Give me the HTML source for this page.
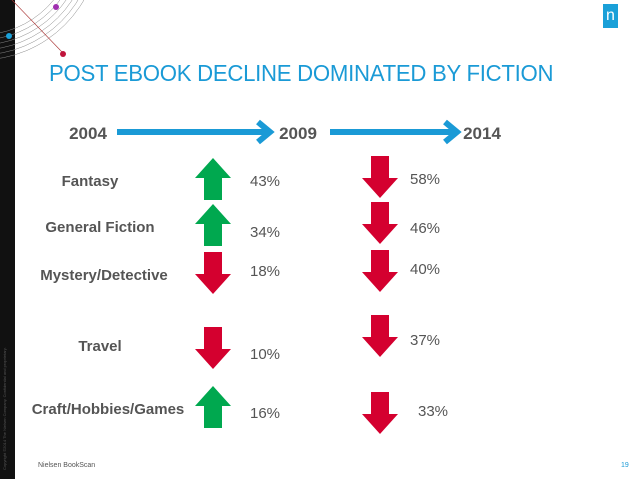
<!DOCTYPE html>
<html><head><meta charset="utf-8"><style>
body{margin:0;width:638px;height:479px;background:#fff;position:relative;overflow:hidden;font-family:"Liberation Sans",sans-serif}
.t{position:absolute;white-space:nowrap}
</style></head><body>
<div style="position:absolute;left:0;top:0;width:15px;height:479px;background:#111"></div>
<div class="t" style="left:2px;top:470px;transform:rotate(-90deg);transform-origin:0 0;font-size:4px;color:#555">Copyright ©2014 The Nielsen Company. Confidential and proprietary.</div>
<svg style="position:absolute;left:0;top:0" width="130" height="60">
<g fill="none" stroke="#888" stroke-width="0.5">
<circle cx="-20" cy="-60" r="95"/><circle cx="-20" cy="-60" r="100"/><circle cx="-20" cy="-60" r="105"/><circle cx="-20" cy="-60" r="110"/><circle cx="-20" cy="-60" r="115"/><circle cx="-20" cy="-60" r="120"/></g>
<line x1="12" y1="0" x2="62" y2="52" stroke="#a33" stroke-width="0.6"/>
<circle cx="56" cy="7" r="3" fill="#a030b0"/><circle cx="9" cy="36" r="3" fill="#1aa0d8"/><circle cx="63" cy="54" r="3" fill="#c0143c"/></svg>
<div style="position:absolute;left:603px;top:4px;width:15px;height:24px;background:#1aa0d8;color:#fff;font-size:16px;text-align:center;line-height:24px">n</div>
<div class="t" style="left:49px;top:60px;font-size:23px;color:#1a9ad6;letter-spacing:-0.3px;transform:scaleX(0.965);transform-origin:0 0">POST EBOOK DECLINE DOMINATED BY FICTION</div>
<svg id="c" style="position:absolute;left:0;top:0" width="638" height="479"></svg>
<div class="t" style="left:38px;top:462px;font-size:7px;color:#555">Nielsen BookScan</div>
<div class="t" style="left:621px;top:462px;font-size:7px;color:#1a9ad6">19</div>
<script>
const categories=["Fantasy","General Fiction","Mystery/Detective","Travel","Craft/Hobbies/Games"];
const change2009=[43,34,18,10,16];
const dir2009=["up","up","down","down","up"];
const change2014=[58,46,40,37,33];
const dir2014=["down","down","down","down","down"];
const years=["2004","2009","2014"];
const NS="http://www.w3.org/2000/svg";
const svg=document.getElementById("c");
function mk(t,a,txt){const e=document.createElementNS(NS,t);for(const k in a)e.setAttribute(k,a[k]);if(txt!==undefined)e.textContent=txt;svg.appendChild(e);return e;}
const yx=[88,298,482];
years.forEach((y,i)=>{const e=mk("text",{x:yx[i],y:139,"font-size":17,"font-weight":"bold",fill:"#555","text-anchor":"middle","font-family":"Liberation Sans"},y);
});
[[117,270],[330,457]].forEach((s,i)=>{const g=mk("g",{stroke:"#1a9ad6","stroke-width":6,fill:"none"});

const l=document.createElementNS(NS,"line");l.setAttribute("x1",s[0]);l.setAttribute("y1",132);l.setAttribute("x2",s[1]);l.setAttribute("y2",132);g.appendChild(l);
const p=document.createElementNS(NS,"polyline");p.setAttribute("points",`${s[1]-12},${122} ${s[1]},132 ${s[1]-12},142`);g.appendChild(p);});
const rowY=[181,227,275,346,409];
const labelX=[90,100,104,100,108];
function arrow(cx,cy,dir){const w=18,hw=9,h=42,hh=20;const s=dir==="up"?-1:1;const top=cy-s*h/2,bot=cy+s*h/2;
const pts=[[cx-hw,top],[cx+hw,top],[cx+hw,bot-s*hh],[cx+w,bot-s*hh],[cx,bot],[cx-w,bot-s*hh],[cx-hw,bot-s*hh]].map(p=>p.join(",")).join(" ");
return mk("polygon",{points:pts,fill:dir==="up"?"#00a84f":"#d4002f"});}
categories.forEach((c,i)=>{const y=rowY[i];
const t=mk("text",{x:labelX[i],y:y+5,"font-size":15,"font-weight":"bold",fill:"#555","text-anchor":"middle","font-family":"Liberation Sans"},c);

const a1=arrow(213,y-2+(i==3?4:0),dir2009[i]);
const a2=arrow(380,y-4+(i==3?-6:0)+(i==4?8:0),dir2014[i]);
const o1=[0,5,-4,8,4][i],o2=[-2,1,-6,-6,2][i];
const p1=mk("text",{x:250,y:y+5+o1,"font-size":15,fill:"#555","font-family":"Liberation Sans"},change2009[i]+"%");

const p2=mk("text",{x:i==4?418:410,y:y+5+o2,"font-size":15,fill:"#555","font-family":"Liberation Sans"},change2014[i]+"%");
});
</script>
</body></html>
